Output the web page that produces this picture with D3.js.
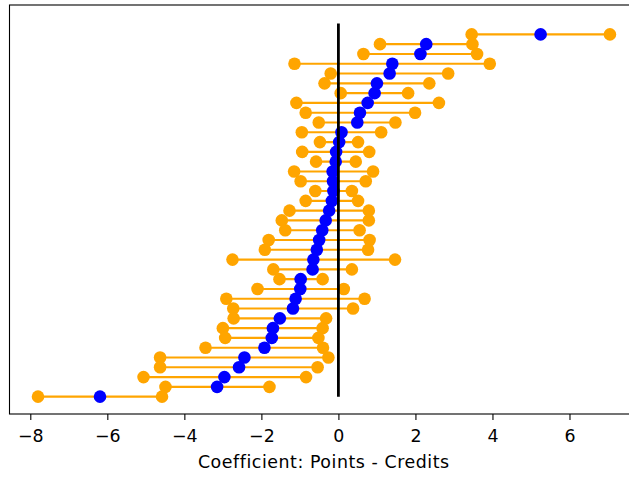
<!DOCTYPE html>
<html>
<head>
<meta charset="utf-8">
<script src="https://cdn.jsdelivr.net/npm/d3@7"></script>
<style>
  html, body { margin: 0; padding: 0; background: #fff; }
  svg { display: block; font-family: "DejaVu Sans", sans-serif; }
</style>
</head>
<body>
<svg id="chart" width="629" height="478"></svg>
<script>
// Coefficient estimates (top row first) with their interval bounds
const estimate = [5.25, 2.28, 2.13, 1.40, 1.33, 1.00, 0.94, 0.76, 0.56, 0.49, 0.08,
  0.02, -0.06, -0.07, -0.15, -0.14, -0.13, -0.17, -0.24, -0.33, -0.42, -0.50, -0.56,
  -0.65, -0.67, -0.98, -0.99, -1.11, -1.18, -1.52, -1.70, -1.73, -1.92, -2.44, -2.58,
  -2.96, -3.15, -6.19];
const lower = [3.46, 1.08, 0.65, -1.14, -0.20, -0.36, 0.06, -1.09, -0.85, -0.51, -0.95,
  -0.48, -0.94, -0.58, -1.15, -0.98, -0.60, -0.85, -1.27, -1.47, -1.38, -1.81, -1.91,
  -2.75, -1.69, -1.53, -2.10, -2.91, -2.73, -2.72, -3.00, -2.94, -3.45, -4.63, -4.63,
  -5.06, -4.49, -7.80];
const upper = [7.05, 3.48, 3.60, 3.93, 2.85, 2.36, 1.81, 2.61, 1.99, 1.48, 1.11,
  0.51, 0.80, 0.45, 0.90, 0.71, 0.35, 0.51, 0.79, 0.79, 0.55, 0.81, 0.77,
  1.47, 0.35, -0.41, 0.14, 0.68, 0.38, -0.32, -0.41, -0.52, -0.40, -0.26, -0.54,
  -0.84, -1.79, -4.58];
const xTicks = [-8, -6, -4, -2, 0, 2, 4, 6];
const xLabel = "Coefficient: Points - Credits";

const svg = d3.select("#chart");
const plotLeft = 9.5, plotRight = 636.5, plotTop = 5, plotBottom = 414;

const x = d3.scaleLinear().domain([-8.54, 7.74]).range([plotLeft, plotRight]);
const y = d3.scaleLinear().domain([-3, 38.77]).range([plotTop, plotBottom]);

const rows = estimate.map((e, i) => ({ i, e, lo: lower[i], hi: upper[i] }));

// interval segments and endpoint markers
const g = svg.append("g");
rows.forEach(d => {
  const row = g.append("g");
  row.append("line")
    .attr("x1", x(d.lo)).attr("x2", x(d.hi))
    .attr("y1", y(d.i)).attr("y2", y(d.i))
    .attr("stroke", "orange").attr("stroke-width", 2.1);
  [d.lo, d.hi].forEach(v => {
    row.append("circle").attr("cx", x(v)).attr("cy", y(d.i))
      .attr("r", 6.3).attr("fill", "orange");
  });
  row.append("circle").attr("cx", x(d.e)).attr("cy", y(d.i))
    .attr("r", 6.3).attr("fill", "blue");
});

// zero reference line
svg.append("line")
  .attr("x1", x(0)).attr("x2", x(0))
  .attr("y1", y(-1.1)).attr("y2", y(37))
  .attr("stroke", "black").attr("stroke-width", 2.8);

// frame
svg.append("rect")
  .attr("x", plotLeft).attr("y", plotTop)
  .attr("width", plotRight - plotLeft).attr("height", plotBottom - plotTop)
  .attr("fill", "none").attr("stroke", "black").attr("stroke-width", 1.1);

// x axis
const axis = d3.axisBottom(x).tickValues(xTicks)
  .tickSize(6).tickPadding(6)
  .tickFormat(d => d < 0 ? "\u2212" + Math.abs(d) : String(d));
const ax = svg.append("g").attr("transform", `translate(0,${plotBottom})`).call(axis);
ax.select(".domain").remove();
ax.selectAll(".tick line").attr("stroke", "black").attr("stroke-width", 1.1);
ax.selectAll(".tick text")
  .attr("fill", "black")
  .attr("y", 28.3).attr("dy", null)
  .style("font-size", "17.4px")
  .style("font-family", "DejaVu Sans, sans-serif");

svg.append("text")
  .attr("x", (plotLeft + plotRight) / 2 + 0.8).attr("y", 467.7)
  .attr("text-anchor", "middle")
  .style("font-size", "17.4px")
  .style("letter-spacing", "0.55px")
  .text(xLabel);
</script>
</body>
</html>
